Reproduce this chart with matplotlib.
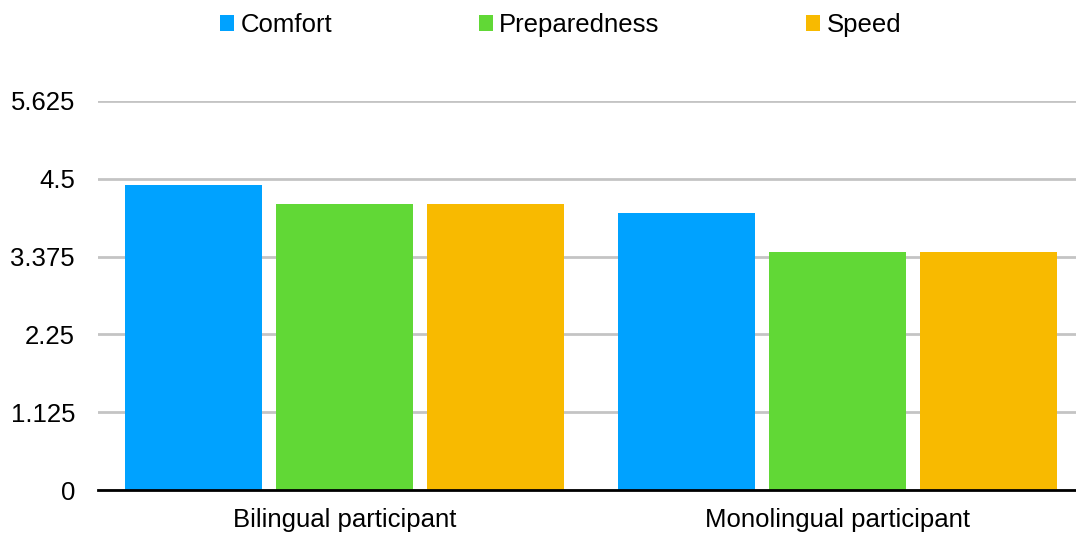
from matplotlib import pyplot as plt
import numpy as np

categories = ["Bilingual participant", "Monolingual participant"]
series = ["Comfort", "Preparedness", "Speed"]
comfort = [4.41, 4.0]
preparedness = [4.14, 3.44]
speed = [4.14, 3.44]
yticks = [0, 1.125, 2.25, 3.375, 4.5, 5.625]
ytick_labels = ["0", "1.125", "2.25", "3.375", "4.5", "5.625"]

colors = ["#00a2ff", "#61d836", "#f8ba00"]

plt.rcParams["font.family"] = ["Liberation Sans", "DejaVu Sans"]

fig = plt.figure(figsize=(10.76, 5.35), dpi=100)
ax = fig.add_axes([98 / 1076, 1 - 490 / 535, 1 - 98 / 1076, (490 - 101) / 535])

x = np.arange(len(categories))
width = 0.278
step = 0.3066
for i, (name, vals) in enumerate(zip(series, [comfort, preparedness, speed])):
    ax.bar(x + (i - 1) * step, vals, width, color=colors[i], label=name, zorder=3)

ax.set_xlim(-0.5005, 1.485)
ax.set_ylim(0, 5.625)
ax.set_yticks(yticks)
ax.set_yticklabels(ytick_labels)
ax.set_xticks(x)
ax.set_xticklabels(categories)
ax.tick_params(axis="both", length=0, labelsize=18.5, colors="black")
ax.tick_params(axis="y", pad=16.5)
ax.tick_params(axis="x", pad=13)
ax.yaxis.grid(True, color="#c4c4c4", linewidth=2, zorder=0)
ax.set_axisbelow(True)
for s in ["top", "right", "left"]:
    ax.spines[s].set_visible(False)
ax.spines["bottom"].set_color("black")
ax.spines["bottom"].set_linewidth(2)
ax.spines["bottom"].set_zorder(4)

fig.legend(loc="center", bbox_to_anchor=(0.521, 1 - 25 / 535), ncol=3,
           frameon=False, fontsize=18.5, handlelength=0.545, handleheight=0.545,
           handletextpad=0.25, columnspacing=5.7, borderpad=0)

fig.savefig("out.png", dpi=100)
